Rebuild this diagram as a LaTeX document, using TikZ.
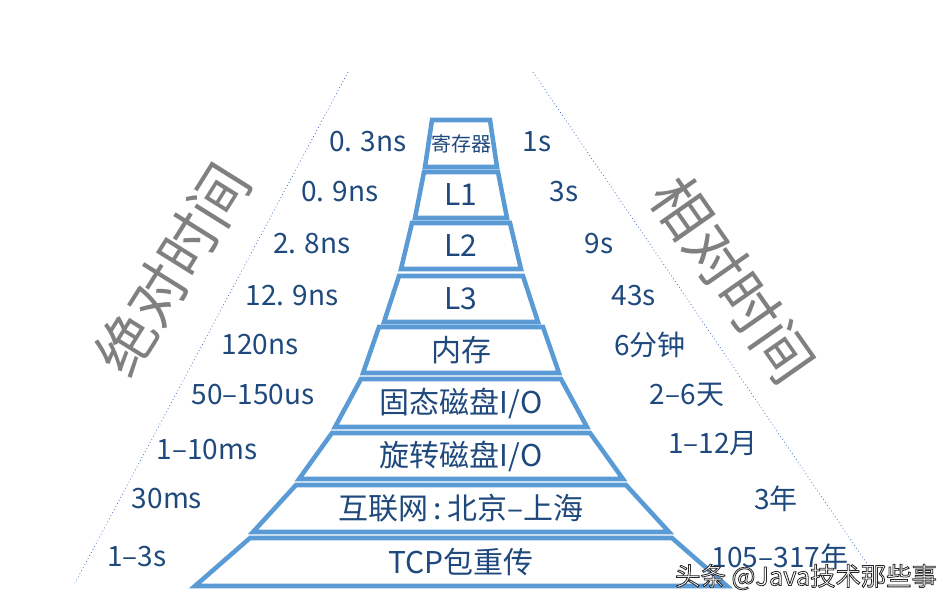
\documentclass[tikz,border=0pt]{standalone}
\usepackage{fontspec}
\setmainfont{Noto Sans CJK SC}
\newfontfamily\cjk{Noto Sans CJK SC}
\definecolor{pyrblue}{RGB}{91,155,213}
\definecolor{textblue}{RGB}{31,73,125}
\definecolor{titlegray}{RGB}{128,128,128}
\definecolor{guideblue}{RGB}{68,114,196}
\usetikzlibrary{positioning}

\tikzset{
  layer/.style={draw=pyrblue,line width=3.4pt,line join=miter},
  layertext/.style={text=textblue,font=\cjk\fontsize{22.5}{22.5}\selectfont},
  timetext/.style={text=textblue,font=\cjk\fontsize{21}{21}\selectfont},
  bigtitle/.style={text=titlegray,font=\cjk\fontsize{44}{44}\selectfont},
  guide/.style={draw=guideblue,line width=0.6pt,dotted},
}

\begin{document}
\begin{tikzpicture}[x=0.75pt,y=-0.75pt]
  \useasboundingbox (0,0) rectangle (951,606);

  % dotted guide lines
  \coordinate (ltop) at (348,72);
  \coordinate (lbot) at (75,583);
  \coordinate (rtop) at (533,72);
  \coordinate (rbot) at (870,568);
  \draw[guide] (ltop) -- (lbot);
  \draw[guide] (rtop) -- (rbot);

  % pyramid layers: top y / top half width / bottom y / bottom half width / text
  \foreach \yt/\tw/\yb/\bw/\lbl [count=\i] in {
      120/29/167/36/{{\fontsize{15}{15}\selectfont 寄存器}},
      172/37/218/46/L1,
      223/49/269/60/L2,
      276/62/322/77/L3,
      327/82/373/98/内存,
      379/100/427/126/{固态磁盘I/O},
      433/129/479/162/{旋转磁盘I/O},
      485/165/532/208/{互联网\,:\,北京–上海},
      538/211/586/266/TCP包重传}
  {
    \draw[layer] (461-\tw,\yt) -- (461+\tw,\yt) -- (461+\bw,\yb) -- (461-\bw,\yb) -- cycle;
    \node[layertext] (layer\i) at (461,{(\yt+\yb)/2}) {\lbl};
  }

  % absolute time
  \foreach \x/\y/\lbl [count=\i] in {
      368/142/0. 3ns, 340/192/0. 9ns, 312/244/2. 8ns, 292/296/12. 9ns,
      260/345/120ns, 253/395/50–150us, 207/450/1–10ms, 167/499/30ms,
      137/557/1–3s}
    \node[timetext] (abs\i) at (\x,\y) {\lbl};

  % relative time
  \foreach \x/\y/\lbl [count=\i] in {
      537/142/1s, 564/192/3s, 599/244/9s, 634/296/43s, 650/345/6分钟,
      687/395/2–6天, 713/444/1–12月, 776/499/3年, 780/557/105–317年}
    \node[timetext] (rel\i) at (\x,\y) {\lbl};

  \node[bigtitle,rotate=58] (abstitle) at (172,269) {绝对时间};
  \node[bigtitle,rotate=-55] (reltitle) at (733,280) {相对时间};

  % watermark, white letters with a dark outline
  \node[font=\cjk\fontsize{19}{19}\selectfont,text=white] (mark) at (806,577)
    {\special{pdf:literal direct 0.6 w 0.15 G 2 Tr}头条 @Java技术那些事\special{pdf:literal direct 0 Tr}};
\end{tikzpicture}
\end{document}
